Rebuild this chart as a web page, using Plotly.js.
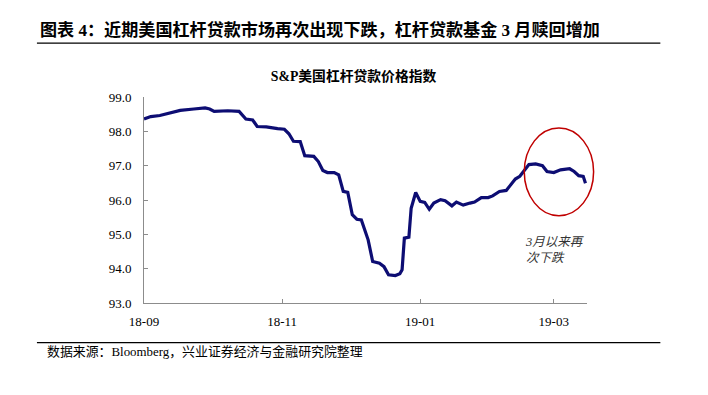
<!DOCTYPE html>
<html>
<head>
<meta charset="utf-8">
<script src="https://cdn.plot.ly/plotly-3.0.1.min.js"></script>
<style>
html,body{margin:0;padding:0;background:#fff;}
#chart{width:708px;height:395px;}
</style>
</head>
<body>
<div id="chart"></div>
<script>
// Data
const dates = [
  "2018-09-01","2018-09-04","2018-09-08","2018-09-12","2018-09-17","2018-09-23","2018-09-28","2018-09-30",
  "2018-10-02","2018-10-08","2018-10-13","2018-10-16","2018-10-19","2018-10-21","2018-10-25","2018-10-30",
  "2018-11-02","2018-11-04","2018-11-06","2018-11-09","2018-11-11","2018-11-15","2018-11-17","2018-11-19",
  "2018-11-21","2018-11-24","2018-11-26","2018-11-28","2018-11-30",
  "2018-12-02","2018-12-04","2018-12-06","2018-12-09","2018-12-11","2018-12-14","2018-12-16","2018-12-18",
  "2018-12-21","2018-12-23","2018-12-24","2018-12-25","2018-12-27","2018-12-28","2018-12-30",
  "2019-01-01","2019-01-03","2019-01-05","2019-01-07","2019-01-10","2019-01-12","2019-01-15","2019-01-17",
  "2019-01-20","2019-01-23","2019-01-25","2019-01-28","2019-01-31",
  "2019-02-02","2019-02-05","2019-02-08","2019-02-10","2019-02-12","2019-02-14","2019-02-16","2019-02-18",
  "2019-02-21","2019-02-24","2019-02-26",
  "2019-03-01","2019-03-04","2019-03-08","2019-03-10","2019-03-12","2019-03-14","2019-03-15"
];
const indexValues = [
  98.36,98.43,98.46,98.53,98.61,98.65,98.68,98.65,
  98.58,98.60,98.58,98.36,98.33,98.14,98.13,98.08,
  98.06,97.93,97.71,97.70,97.29,97.27,97.12,96.86,
  96.80,96.80,96.73,96.25,96.22,
  95.57,95.44,95.42,94.84,94.21,94.16,94.06,93.82,
  93.80,93.85,93.97,94.89,94.92,95.76,96.22,
  95.96,95.93,95.73,95.91,96.01,95.98,95.83,95.94,
  95.85,95.91,95.94,96.07,96.07,
  96.12,96.25,96.28,96.44,96.61,96.69,96.86,97.03,
  97.05,97.00,96.83,
  96.80,96.88,96.91,96.83,96.71,96.69,96.49
];
const yTicks = [93,94,95,96,97,98,99];
const yTickLabels = ["93.0","94.0","95.0","96.0","97.0","98.0","99.0"];
const xTicks = ["2018-09-01","2018-11-01","2019-01-01","2019-03-01"];
const xTickLabels = ["18-09","18-11","19-01","19-03"];

const headerText = "图表 4：近期美国杠杆贷款市场再次出现下跌，杠杆贷款基金 3 月赎回增加";
const chartTitle = "S&P美国杠杆贷款价格指数";
const sourceText = "数据来源：Bloomberg，兴业证券经济与金融研究院整理";
const noteText = "3月以来再<br>次下跌";

const serif = "Liberation Serif, 'Times New Roman', 'Noto Sans CJK SC', serif";

const trace = {
  x: dates,
  y: indexValues,
  type: "scatter",
  mode: "lines",
  line: {color: "#0d0d73", width: 3.2},
  hoverinfo: "x+y"
};

const layout = {
  width: 708,
  height: 395,
  margin: {l: 144, r: 121.3, t: 97.3, b: 91.7, pad: 0},
  paper_bgcolor: "#ffffff",
  plot_bgcolor: "#ffffff",
  showlegend: false,
  font: {family: serif, size: 13, color: "#000"},
  title: {
    text: chartTitle,
    font: {family: serif, size: 13.8, color: "#000", weight: "bold"},
    x: 0.4993, xref: "container", xanchor: "center",
    y: 1 - 76.5/395, yref: "container", yanchor: "middle"
  },
  xaxis: {
    type: "date",
    range: ["2018-09-01", "2019-03-15 16:00"],
    tickvals: xTicks,
    ticktext: xTickLabels,
    showgrid: false,
    zeroline: false,
    showline: true,
    linecolor: "#8c8c8c",
    linewidth: 1,
    ticks: "inside",
    ticklen: 4,
    tickcolor: "#8c8c8c",
    tickfont: {family: serif, size: 13, color: "#000"},
    ticklabelstandoff: 6
  },
  yaxis: {
    range: [93, 99],
    tickvals: yTicks,
    ticktext: yTickLabels,
    showgrid: false,
    zeroline: false,
    showline: true,
    linecolor: "#8c8c8c",
    linewidth: 1,
    ticks: "inside",
    ticklen: 4,
    tickcolor: "#8c8c8c",
    tickfont: {family: serif, size: 13, color: "#000"},
    ticklabelstandoff: 9
  },
  shapes: [
    {type: "line", xref: "paper", yref: "paper",
     x0: (37-144)/442.7, x1: (660-144)/442.7,
     y0: (303.3-43.5)/206, y1: (303.3-43.5)/206,
     line: {color: "#000", width: 1.3}},
    {type: "line", xref: "paper", yref: "paper",
     x0: (37-144)/442.7, x1: (660-144)/442.7,
     y0: (303.3-343)/206, y1: (303.3-343)/206,
     line: {color: "#000", width: 1.3}},
    {type: "circle", xref: "paper", yref: "paper",
     x0: (524-144)/442.7, x1: (593.3-144)/442.7,
     y0: (303.3-216)/206, y1: (303.3-128.3)/206,
     line: {color: "#c00000", width: 1.5}}
  ],
  annotations: [
    {text: headerText, xref: "paper", yref: "paper",
     x: (38-144)/442.7, y: (303.3-30)/206, xanchor: "left", yanchor: "middle",
     showarrow: false, font: {family: serif, size: 17.1, color: "#000", weight: "bold"}},
    {text: sourceText, xref: "paper", yref: "paper",
     x: (45-144)/442.7, y: (303.3-352)/206, xanchor: "left", yanchor: "middle",
     showarrow: false, font: {family: serif, size: 12.9, color: "#000"}},
    {text: noteText, xref: "paper", yref: "paper",
     x: (523-144)/442.7, y: (303.3-250.5)/206, xanchor: "left", yanchor: "middle", align: "left",
     showarrow: false, font: {family: serif, size: 12.5, color: "#333", style: "italic"}}
  ]
};

Plotly.newPlot("chart", [trace], layout, {displayModeBar: false, staticPlot: true});
</script>
</body>
</html>
